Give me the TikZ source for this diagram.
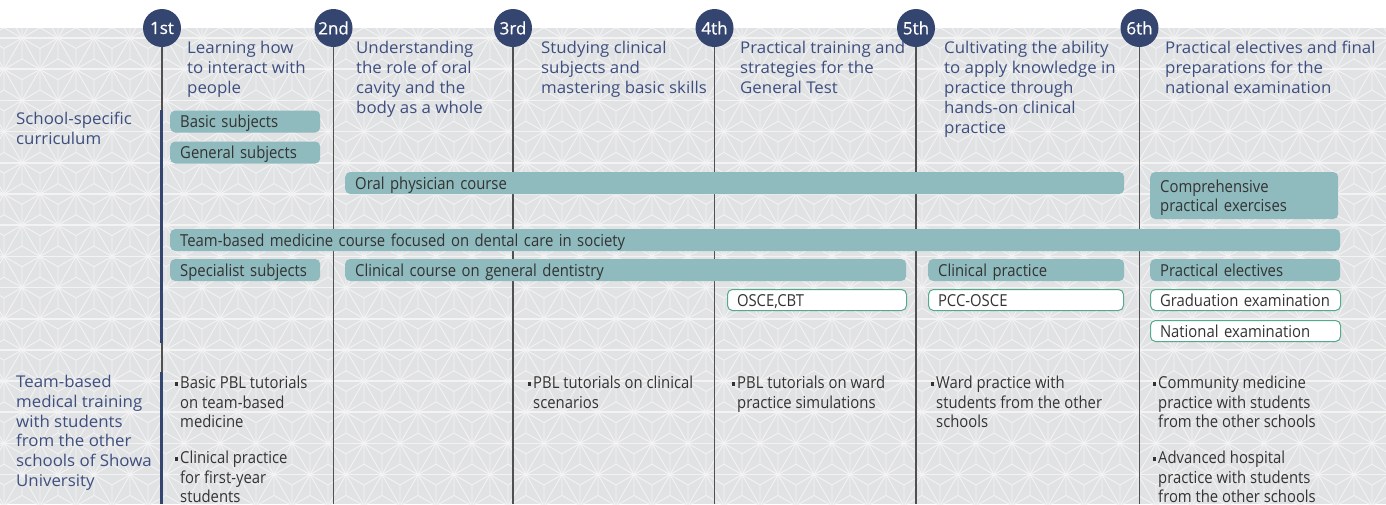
\documentclass[tikz,border=0pt]{standalone}
\usepackage{fontspec}
\setmainfont{Open Sans}[FakeStretch=1.04]
\newfontfamily\condf{Open Sans}[FakeStretch=0.9]
\newfontfamily\circf{Open Sans}[FakeBold=0.6]
\definecolor{navy}{HTML}{34456F}
\definecolor{headc}{HTML}{3E4E7E}
\definecolor{bgc}{HTML}{E1E2E4}
\definecolor{patc}{HTML}{F3F3F4}
\definecolor{barc}{HTML}{8FBABE}
\definecolor{boxb}{HTML}{55A98C}
\definecolor{txtc}{HTML}{333333}
\definecolor{linec}{HTML}{505050}
\newcommand{\bulsq}{\llap{\rule[3.2pt]{3.2pt}{3.2pt}\hspace{2.5pt}}}
\tikzset{
  pat/.style={draw=patc, line width=0.9pt},
  yearc/.style={circle, fill=navy, minimum size=38pt, inner sep=0pt, text=white, font=\circf\fontsize{17}{17}\selectfont},
  yline/.style={draw=linec, line width=1.3pt},
  nline/.style={draw=navy, line width=3.5pt},
  head/.style={anchor=north west, inner sep=0pt, align=left, text=headc, font=\fontsize{16.2}{20}\selectfont},
  barbase/.style={anchor=west, rounded corners=5pt, inner xsep=10pt, inner ysep=0pt, text=txtc, align=left, font=\condf\fontsize{16.5}{19}\selectfont},
  bar/.style={barbase, fill=barc, minimum height=22pt, text height=14pt, text depth=1.5pt},
  bar2/.style={barbase, fill=barc, minimum height=47pt, text depth=19pt},
  wbox/.style={barbase, fill=white, draw=boxb, line width=1pt, inner xsep=9.5pt, minimum height=21pt, text height=14pt, text depth=1.5pt},
  bul/.style={anchor=north west, inner sep=0pt, align=left, text=txtc, font=\condf\fontsize{16.5}{19.3}\selectfont},
}
\begin{document}
\begin{tikzpicture}[x=1pt,y=-1pt]
\useasboundingbox (0,0) rectangle (1386,504);
% background pattern
\begin{scope}
\clip (0,28) rectangle (1386,504);
\fill[bgc] (0,28) rectangle (1386,504);
\foreach \n in {-10,...,47}{
  \pgfmathsetmacro\xx{22+36*\n}
  \draw[pat] (\xx-300,38.1-519.6) -- (\xx+300,38.1+519.6);
  \draw[pat] (\xx+300,38.1-519.6) -- (\xx-300,38.1+519.6);
}
\foreach \k in {-1,...,16}{
  \pgfmathsetmacro\yy{38.1+31.18*\k}
  \foreach \n in {-1,...,39}{
    \pgfmathsetmacro\xx{22-18*mod(\k,2)+36*\n}
    \draw[pat] (\xx,\yy-20.78) -- (\xx,\yy+20.78)
      (\xx-18,\yy-10.39) -- (\xx+18,\yy+10.39)
      (\xx-18,\yy+10.39) -- (\xx+18,\yy-10.39);
  }
}
\foreach \k in {-1,...,16}{
  \pgfmathsetmacro\yy{38.1+31.18*\k}
  \draw[draw=patc, line width=1.6pt] (0,\yy) -- (1386,\yy);
}
\end{scope}

% year circles and lines
\node[yearc] (y1) at (162,28) {1st};
\node[yearc] (y2) at (333.5,28) {2nd};
\node[yearc] (y3) at (513,28) {3rd};
\node[yearc] (y4) at (714.5,28) {4th};
\node[yearc] (y5) at (916,28) {5th};
\node[yearc] (y6) at (1139.5,28) {6th};
\coordinate (e1) at (162,504);
\coordinate (e2) at (333.5,504);
\coordinate (e3) at (513,504);
\coordinate (e4) at (714.5,504);
\coordinate (e5) at (916,504);
\coordinate (e6) at (1139.5,504);
\foreach \i in {1,...,6}{ \draw[yline] (y\i.south) -- (e\i); }
\coordinate (n1a) at (161.5,110);
\coordinate (n1b) at (161.5,343);
\coordinate (n2a) at (161.5,372);
\coordinate (n2b) at (161.5,504);
\draw[nline] (n1a) -- (n1b);
\draw[nline] (n2a) -- (n2b);

% headings
\node[head] (h1) at (187,41) {Learning how\\to interact with\\people};
\node[head] (h2) at (356,41) {Understanding\\the role of oral\\cavity and the\\body as a whole};
\node[head] (h3) at (541,41) {Studying clinical\\subjects and\\mastering basic skills};
\node[head] (h4) at (740,41) {Practical training and\\strategies for the\\General Test};
\node[head] (h5) at (944,41) {Cultivating the ability\\to apply knowledge in\\practice through\\hands-on clinical\\practice};
\node[head] (h6) at (1165,41) {Practical electives and final\\preparations for the\\national examination};

% row labels
\node[head] (l1) at (16,112) {School-specific\\curriculum};
\node[head, font=\fontsize{16.2}{19.8}\selectfont] (l2) at (16,375) {Team-based\\medical training\\with students\\from the other\\schools of Showa\\University};

% bars
\node[bar, text width=130pt] (b1) at (170,121.5) {Basic subjects};
\node[bar, text width=130pt] (b2) at (170,152.5) {General subjects};
\node[bar, text width=759pt] (b3) at (345,183) {Oral physician course};
\node[bar2, text width=168pt] (b4) at (1150,195.5) {Comprehensive\\practical exercises};
\node[bar, text width=1150pt] (b5) at (170,240) {Team-based medicine course focused on dental care in society};
\node[bar, text width=130pt] (b6) at (170,270) {Specialist subjects};
\node[bar, text width=541pt] (b7) at (345,270) {Clinical course on general dentistry};
\node[bar, text width=176pt] (b8) at (928,270) {Clinical practice};
\node[bar, text width=170pt] (b9) at (1150,270) {Practical electives};
\node[wbox, text width=160pt] (w1) at (727,300) {OSCE,CBT};
\node[wbox, text width=176pt] (w2) at (928,300) {PCC-OSCE};
\node[wbox, text width=171pt] (w3) at (1150,300) {Graduation examination};
\node[wbox, text width=171pt] (w4) at (1150,331) {National examination};

% bullet items
\node[bul] (p1) at (180,376) {\bulsq Basic PBL tutorials\\on team-based\\medicine};
\node[bul] (p2) at (180,451) {\bulsq Clinical practice\\for first-year\\students};
\node[bul] (p3) at (533,376) {\bulsq PBL tutorials on clinical\\scenarios};
\node[bul] (p4) at (737,376) {\bulsq PBL tutorials on ward\\practice simulations};
\node[bul] (p5) at (936,376) {\bulsq Ward practice with\\students from the other\\schools};
\node[bul] (p6) at (1158,376) {\bulsq Community medicine\\practice with students\\from the other schools};
\node[bul] (p7) at (1158,451) {\bulsq Advanced hospital\\practice with students\\from the other schools};
\end{tikzpicture}
\end{document}
